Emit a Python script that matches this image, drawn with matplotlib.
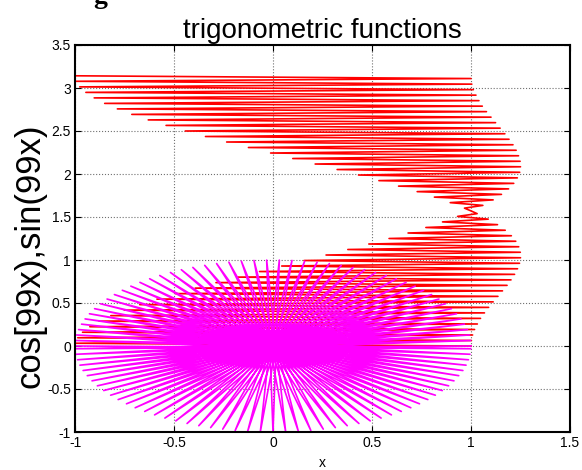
import matplotlib
matplotlib.use("Agg")
import matplotlib.pyplot as plt

plt.rcParams['font.family'] = ['Liberation Sans', 'DejaVu Sans']

# red series: x values (cos(99x)+sin(x)^2) against y = x
red_y = [0.000, 0.032, 0.064, 0.096, 0.128, 0.160, 0.192, 0.224, 0.256, 0.289,
         0.321, 0.353, 0.385, 0.417, 0.449, 0.481, 0.513, 0.545, 0.577, 0.609,
         0.641, 0.673, 0.705, 0.737, 0.769, 0.801, 0.833, 0.866, 0.898, 0.930,
         0.962, 0.994, 1.026, 1.058, 1.090, 1.122, 1.154, 1.186, 1.218, 1.250,
         1.282, 1.314, 1.346, 1.378, 1.411, 1.443, 1.475, 1.507, 1.539, 1.571,
         1.603, 1.635, 1.667, 1.699, 1.731, 1.763, 1.795, 1.827, 1.859, 1.891,
         1.923, 1.955, 1.988, 2.020, 2.052, 2.084, 2.116, 2.148, 2.180, 2.212,
         2.244, 2.276, 2.308, 2.340, 2.372, 2.404, 2.436, 2.468, 2.500, 2.533,
         2.565, 2.597, 2.629, 2.661, 2.693, 2.725, 2.757, 2.789, 2.821, 2.853,
         2.885, 2.917, 2.949, 2.981, 3.013, 3.045, 3.078, 3.110, 3.142]
red_x = [1.000, -0.998, 1.002, -0.986, 1.008, -0.962, 1.018, -0.925, 1.032, -0.878,
         1.048, -0.819, 1.068, -0.751, 1.089, -0.673, 1.112, -0.586, 1.136, -0.493,
         1.159, -0.393, 1.182, -0.288, 1.202, -0.180, 1.220, -0.068, 1.235, 0.044,
         1.245, 0.157, 1.250, 0.268, 1.249, 0.378, 1.241, 0.484, 1.226, 0.586,
         1.204, 0.682, 1.173, 0.772, 1.134, 0.856, 1.087, 0.932, 1.031, 1.000,
         0.967, 1.060, 0.895, 1.112, 0.815, 1.154, 0.728, 1.190, 0.634, 1.216,
         0.535, 1.234, 0.432, 1.246, 0.324, 1.250, 0.213, 1.248, 0.100, 1.240,
         -0.012, 1.228, -0.124, 1.212, -0.234, 1.192, -0.341, 1.171, -0.443, 1.147,
         -0.540, 1.124, -0.630, 1.101, -0.713, 1.078, -0.786, 1.057, -0.850, 1.040,
         -0.903, 1.025, -0.945, 1.012, -0.976, 1.004, -0.994, 1.000, -1.000]

# magenta series: cos(99x), sin(99x)
mag_x = [1.000, -0.999, 0.998, -0.995, 0.992, -0.987, 0.982, -0.975, 0.967, -0.959,
         0.949, -0.938, 0.927, -0.914, 0.901, -0.887, 0.871, -0.855, 0.838, -0.820,
         0.801, -0.782, 0.761, -0.740, 0.718, -0.696, 0.672, -0.648, 0.623, -0.598,
         0.572, -0.546, 0.518, -0.491, 0.463, -0.434, 0.405, -0.375, 0.345, -0.315,
         0.285, -0.254, 0.223, -0.191, 0.160, -0.128, 0.096, -0.064, 0.032, 0.000,
         -0.032, 0.064, -0.096, 0.128, -0.160, 0.191, -0.223, 0.254, -0.285, 0.315,
         -0.345, 0.375, -0.405, 0.434, -0.463, 0.491, -0.518, 0.546, -0.572, 0.598,
         -0.623, 0.648, -0.672, 0.696, -0.718, 0.740, -0.761, 0.782, -0.801, 0.820,
         -0.838, 0.855, -0.871, 0.887, -0.901, 0.914, -0.927, 0.938, -0.949, 0.959,
         -0.967, 0.975, -0.982, 0.987, -0.992, 0.995, -0.998, 0.999, -1.000]
mag_y = [0.000, -0.032, 0.064, -0.096, 0.128, -0.160, 0.191, -0.223, 0.254, -0.285,
         0.315, -0.345, 0.375, -0.405, 0.434, -0.463, 0.491, -0.518, 0.546, -0.572,
         0.598, -0.623, 0.648, -0.672, 0.696, -0.718, 0.740, -0.761, 0.782, -0.801,
         0.820, -0.838, 0.855, -0.871, 0.887, -0.901, 0.914, -0.927, 0.938, -0.949,
         0.959, -0.967, 0.975, -0.982, 0.987, -0.992, 0.995, -0.998, 0.999, -1.000,
         0.999, -0.998, 0.995, -0.992, 0.987, -0.982, 0.975, -0.967, 0.959, -0.949,
         0.938, -0.927, 0.914, -0.901, 0.887, -0.871, 0.855, -0.838, 0.820, -0.801,
         0.782, -0.761, 0.740, -0.718, 0.696, -0.672, 0.648, -0.623, 0.598, -0.572,
         0.546, -0.518, 0.491, -0.463, 0.434, -0.405, 0.375, -0.345, 0.315, -0.285,
         0.254, -0.223, 0.191, -0.160, 0.128, -0.096, 0.064, -0.032, 0.000]

x_ticks = [-1, -0.5, 0, 0.5, 1, 1.5]
x_tick_labels = ['-1', '-0.5', '0', '0.5', '1', '1.5']
y_ticks = [-1, -0.5, 0, 0.5, 1, 1.5, 2, 2.5, 3, 3.5]
y_tick_labels = ['-1', '-0.5', '0', '0.5', '1', '1.5', '2', '2.5', '3', '3.5']

fig = plt.figure(figsize=(5.82, 4.70), dpi=100)
ax = fig.add_axes([75 / 582, 38 / 470, 495 / 582, 387 / 470])

ax.plot(red_x, red_y, color='#ff0000', lw=1.2)
ax.plot(mag_x, mag_y, color='#ff00ff', lw=1.2)

ax.set_xlim(-1, 1.5)
ax.set_ylim(-1, 3.5)
ax.set_xticks(x_ticks)
ax.set_xticklabels(x_tick_labels)
ax.set_yticks(y_ticks)
ax.set_yticklabels(y_tick_labels)
ax.tick_params(direction='in', top=True, right=True, length=4, width=0.8,
               labelsize=10, pad=3)
ax.grid(True, color='#707070', linestyle=':', lw=0.8)
ax.set_axisbelow(True)
for s in ax.spines.values():
    s.set_linewidth(1.5)

ax.set_title('trigonometric functions', fontsize=20, pad=5)
ax.set_xlabel('x', fontsize=10, labelpad=4)
ax.set_ylabel('cos[99x),sin(99x)', fontsize=25)
ax.yaxis.set_label_coords(-0.058, 0.455)

fig.text(93 / 582, 1.008, 'g', family='Liberation Serif', weight='bold',
         fontsize=20, va='center', ha='left')

fig.savefig('out.png', dpi=100)
